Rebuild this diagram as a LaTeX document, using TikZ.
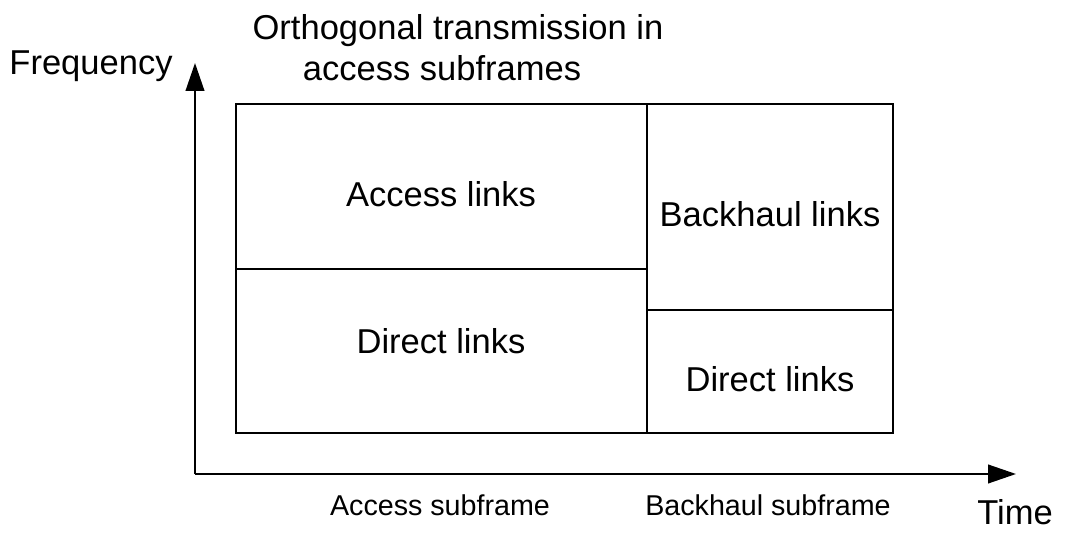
\documentclass[tikz,border=0pt]{standalone}
\usepackage{fontspec}
\setmainfont{Liberation Sans}
\usetikzlibrary{arrows.meta}
\begin{document}
\begin{tikzpicture}[x=0.75pt,y=-0.75pt,
  cell/.style={draw,line width=1.4pt,inner sep=0pt,anchor=center},
  biglabel/.style={anchor=base,inner sep=0pt,font=\fontsize{25.9pt}{31pt}\selectfont},
  smalllabel/.style={anchor=base,inner sep=0pt,font=\fontsize{21.5pt}{26pt}\selectfont},
  axis/.style={line width=1.5pt,-{Triangle[length=21pt,width=14pt]}}]
  \useasboundingbox (0,0) rectangle (1067,534);

  % axes
  \coordinate (origin) at (195,474);
  \coordinate (ytop) at (195,63);
  \coordinate (xend) at (1016,474);
  \draw[axis] (origin) -- (ytop);
  \draw[axis] (origin) -- (xend);

  % resource blocks
  \node[cell,minimum width=308.25pt,minimum height=123.75pt] (acc) at (441.5,186.5) {};
  \node[cell,minimum width=308.25pt,minimum height=123pt] (dirL) at (441.5,351) {};
  \node[cell,minimum width=184.5pt,minimum height=154.5pt] (back) at (770,207) {};
  \node[cell,minimum width=184.5pt,minimum height=92.25pt] (dirR) at (770,371.5) {};

  % block labels
  \node[biglabel] (accT) at (441,207) {Access links};
  \node[biglabel] (dirLT) at (441,354) {Direct links};
  \node[biglabel] (backT) at (770,227) {Backhaul links};
  \node[biglabel] (dirRT) at (770,392) {Direct links};

  % axis labels
  \node[biglabel] (freq) at (91,75) {Frequency};
  \node[biglabel] (time) at (1015,524) {Time};
  \node[smalllabel] (accSub) at (440,515) {Access subframe};
  \node[smalllabel] (backSub) at (768,515) {Backhaul subframe};

  % title
  \node[biglabel] (title1) at (458,40) {Orthogonal transmission in};
  \node[biglabel] (title2) at (442,81) {access subframes};
\end{tikzpicture}
\end{document}
